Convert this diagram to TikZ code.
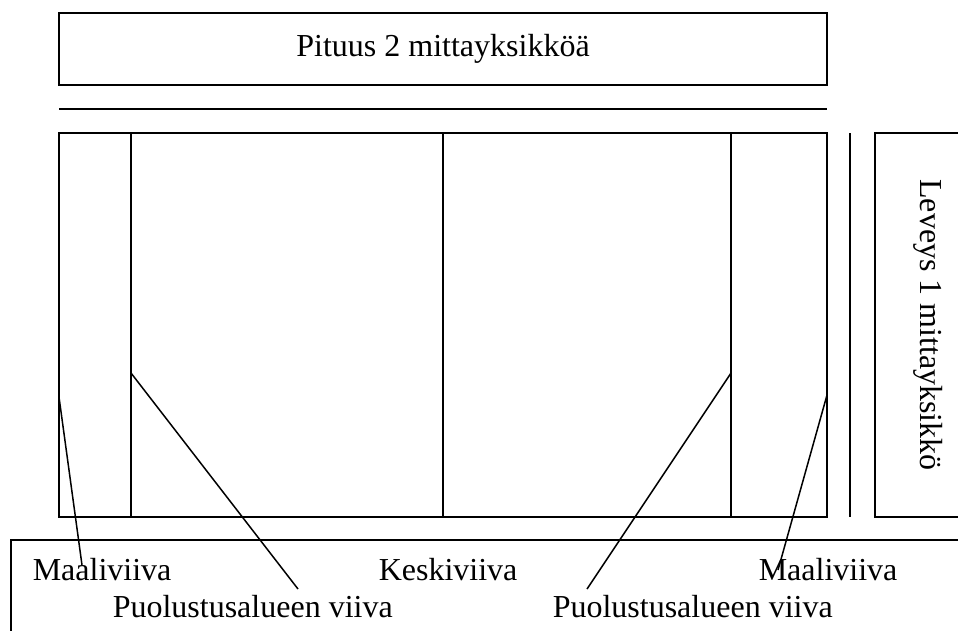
\documentclass[tikz,border=0pt]{standalone}
\usepackage{fontspec}
\setmainfont{Liberation Serif}
\usetikzlibrary{positioning}

\begin{document}
\begin{tikzpicture}[x=1pt, y=-1pt, line width=1.5pt,
        tag/.style={anchor=base west, inner sep=0pt, font=\fontsize{32}{38}\selectfont},
        box/.style={draw, inner sep=0pt, font=\fontsize{32}{38}\selectfont}
    ]
      \useasboundingbox (0,0) rectangle (958,630);
      \clip (0,0) rectangle (958,630);
      % Length
      \node[box, minimum width=768pt, minimum height=72pt] (length) at (443,49) {Pituus 2 mittayksikköä};
      \draw (59,109) -- (827,109);
      % Field with its lines
      \draw (59,133) rectangle (827,517);
      \draw (131,133) -- (131,517);
      \draw (443,133) -- (443,517);
      \draw (731,133) -- (731,517);
      % Width
      \draw (850,133) -- (850,517);
      \draw (875,133) rectangle (980,517);
      \node[anchor=base, inner sep=0pt, rotate=-90, font=\fontsize{32}{38}\selectfont] (width) at (920,325) {Leveys 1 mittayksikkö};
      % Names of the lines
      \draw (11,650) rectangle (980,540);
      \node[tag] (goalL) at (32,580) {Maaliviiva};
      \node[tag] (defL) at (112,617) {Puolustusalueen viiva};
      \node[tag] (centre) at (378,580) {Keskiviiva};
      \node[tag] (defR) at (552,617) {Puolustusalueen viiva};
      \node[tag] (goalR) at (758,580) {Maaliviiva};
      % Pointers
      \coordinate (goalLp) at (59,397);
      \coordinate (defLp) at (131,373);
      \coordinate (defRp) at (731,373);
      \coordinate (goalRp) at (827,395);
      \coordinate (goalLe) at (82,565);
      \coordinate (defLe) at (298,589);
      \coordinate (defRe) at (587,589);
      \coordinate (goalRe) at (778,570);
      \draw (goalLp) -- (goalLe);
      \draw (defLp) -- (defLe);
      \draw (defRp) -- (defRe);
      \draw (goalRp) -- (goalRe);
    \end{tikzpicture}
\end{document}
